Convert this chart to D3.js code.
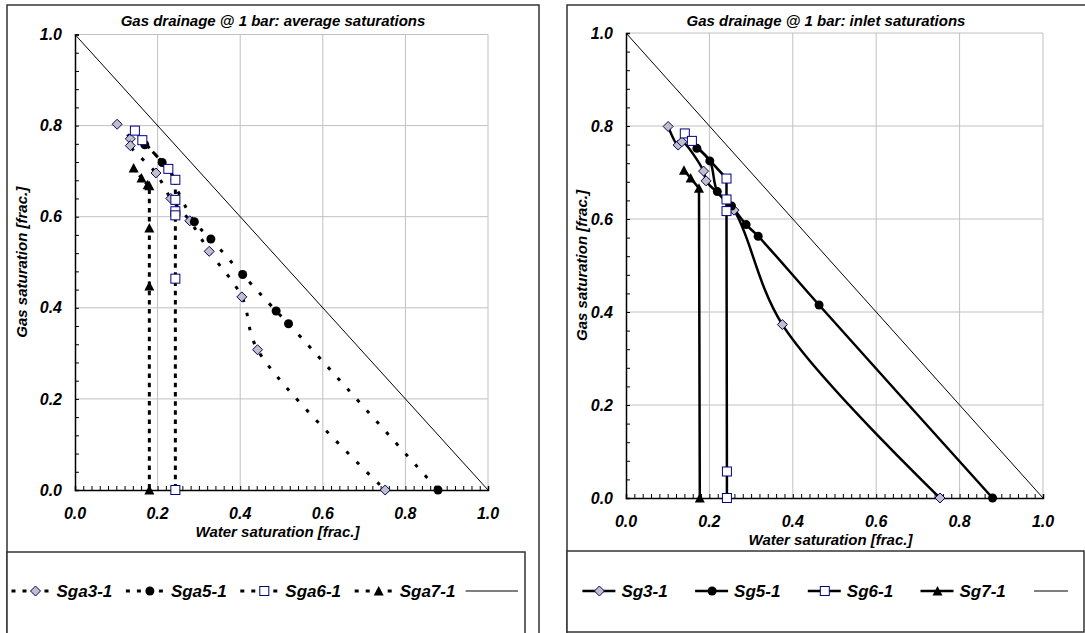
<!DOCTYPE html>
<html>
<head>
<meta charset="utf-8">
<script src="https://cdn.jsdelivr.net/npm/d3@7"></script>
<style>
  body { margin: 0; background: #fff; }
  svg text { font-family: "Liberation Sans", Arial, sans-serif; font-weight: bold; font-style: italic; fill: #000; }
</style>
</head>
<body>
<div id="chart"></div>
<script>
// Average saturations (left chart) - [water sat, gas sat]
const sga3 = [[0.102,0.803],[0.134,0.771],[0.134,0.756],[0.196,0.696],[0.232,0.640],[0.278,0.591],[0.325,0.524],[0.404,0.424],[0.442,0.308],[0.751,0]];
const sga5 = [[0.169,0.758],[0.211,0.719],[0.289,0.589],[0.329,0.551],[0.406,0.473],[0.487,0.393],[0.517,0.365],[0.879,0]];
const sga6 = [[0.145,0.789],[0.163,0.768],[0.226,0.705],[0.243,0.681],[0.243,0.637],[0.243,0.612],[0.243,0.603],[0.243,0.464],[0.243,0]];
const sga7 = [[0.142,0.707],[0.161,0.685],[0.176,0.670],[0.180,0.668],[0.180,0.575],[0.180,0.448],[0.180,0]];

// Inlet saturations (right chart)
const sg3 = [[0.101,0.799],[0.125,0.759],[0.134,0.766],[0.186,0.703],[0.192,0.682],[0.259,0.619],[0.375,0.373],[0.753,0]];
const sg5 = [[0.170,0.752],[0.201,0.725],[0.219,0.659],[0.253,0.628],[0.288,0.588],[0.317,0.563],[0.463,0.415],[0.879,0]];
const sg6 = [[0.141,0.784],[0.158,0.768],[0.241,0.687],[0.241,0.642],[0.241,0.617],[0.242,0.057],[0.242,0]];
const sg7 = [[0.139,0.705],[0.155,0.688],[0.175,0.666],[0.177,0]];

// unit-sum line Sw + Sg = 1
const diagonal = [[0,1],[1,0]];

const tickLabels = [0, 0.2, 0.4, 0.6, 0.8, 1.0];
const leftNames = ["Sga3-1", "Sga5-1", "Sga6-1", "Sga7-1"];
const rightNames = ["Sg3-1", "Sg5-1", "Sg6-1", "Sg7-1"];
const markerKinds = ["diamond", "circle", "square", "triangle"];

const svg = d3.select("#chart").append("svg")
  .attr("width", 1085).attr("height", 633);

// marker painter
function marker(g, kind) {
  if (kind === "diamond") {
    g.append("path").attr("d", "M0,-5L5,0L0,5L-5,0Z")
      .attr("fill", "#c0c0c0").attr("stroke", "#000080").attr("stroke-width", 1);
  } else if (kind === "circle") {
    g.append("circle").attr("r", 4.5).attr("fill", "#000");
  } else if (kind === "square") {
    g.append("rect").attr("x", -4.5).attr("y", -4.5).attr("width", 9).attr("height", 9)
      .attr("fill", "#fff").attr("stroke", "#000080").attr("stroke-width", 1);
  } else {
    g.append("path").attr("d", "M0,-5L5,4.5L-5,4.5Z").attr("fill", "#000");
  }
}

function drawChart(cfg) {
  const x = d3.scaleLinear().domain([0, 1]).range([cfg.x0, cfg.x1]);
  const y = d3.scaleLinear().domain([0, 1]).range([cfg.y0, cfg.y1]);
  const g = svg.append("g");

  // outer frame
  g.append("rect").attr("x", cfg.frame[0]).attr("y", cfg.frame[1])
    .attr("width", cfg.frame[2]).attr("height", cfg.frame[3])
    .attr("fill", "none").attr("stroke", "#333").attr("stroke-width", 1.5);

  // gridlines
  g.selectAll(".vg").data(tickLabels.slice(1)).join("line")
    .attr("x1", d => x(d)).attr("x2", d => x(d)).attr("y1", y(0)).attr("y2", y(1))
    .attr("stroke", "#c0c0c0").attr("stroke-width", 1);
  g.selectAll(".hg").data(tickLabels.slice(1)).join("line")
    .attr("y1", d => y(d)).attr("y2", d => y(d)).attr("x1", x(0)).attr("x2", x(1))
    .attr("stroke", "#c0c0c0").attr("stroke-width", 1);

  // axes with inside minor ticks
  const xAxis = g.append("g").attr("transform", `translate(0,${cfg.y0})`)
    .call(d3.axisBottom(x).tickValues(d3.range(0, 1.001, 0.02)).tickSize(-4).tickFormat(""));
  const yAxis = g.append("g").attr("transform", `translate(${cfg.x0},0)`)
    .call(d3.axisLeft(y).tickValues(d3.range(0, 1.001, 0.04)).tickSize(-4).tickFormat(""));
  [xAxis, yAxis].forEach(a => {
    a.select(".domain").attr("stroke", "#000").attr("stroke-width", 1.5);
    a.selectAll(".tick line").attr("stroke", "#000");
  });

  // tick labels
  g.selectAll(".xl").data(tickLabels).join("text")
    .attr("x", d => x(d)).attr("y", cfg.y0 + 29).attr("text-anchor", "middle")
    .style("font-size", "16px").text(d => d.toFixed(1));
  g.selectAll(".yl").data(tickLabels).join("text")
    .attr("x", cfg.x0 - 13).attr("y", d => y(d)).attr("dy", "0.35em").attr("text-anchor", "end")
    .style("font-size", "16px").text(d => d.toFixed(1));

  // titles
  g.append("text").attr("x", cfg.titleX).attr("y", 26).attr("text-anchor", "middle")
    .style("font-size", "15px").text(cfg.title);
  g.append("text").attr("x", (cfg.x0 + cfg.x1) / 2 - 4).attr("y", cfg.y0 + 47).attr("text-anchor", "middle")
    .style("font-size", "15px").text("Water saturation [frac.]");
  g.append("text").attr("transform", `translate(${cfg.frame[0] + 20},${(cfg.y0 + cfg.y1) / 2}) rotate(-90)`)
    .attr("text-anchor", "middle").style("font-size", "15px").text("Gas saturation [frac.]");

  // diagonal
  const line = d3.line().x(d => x(d[0])).y(d => y(d[1]));
  g.append("path").attr("d", line(diagonal)).attr("fill", "none").attr("stroke", "#000").attr("stroke-width", 1);

  // series: smoothed where the reference bends, straight for the vertical ones
  const curve = d3.line().x(d => x(d[0])).y(d => y(d[1])).curve(d3.curveCatmullRom.alpha(0.5));
  cfg.series.forEach((s, i) => {
    const gen = i < 2 ? curve : line;
    g.append("path").attr("d", gen(s)).attr("fill", "none").attr("stroke", "#000")
      .attr("stroke-width", cfg.lineWidth).attr("stroke-dasharray", cfg.dashes ? cfg.dashes[i] : null);
  });
  cfg.series.forEach((s, i) => {
    s.forEach(p => {
      const m = g.append("g").attr("transform", `translate(${x(p[0])},${y(p[1])})`);
      marker(m, markerKinds[i]);
    });
  });

  // legend
  const lb = cfg.legendBox;
  g.append("rect").attr("x", lb[0]).attr("y", lb[1]).attr("width", lb[2]).attr("height", lb[3])
    .attr("fill", "#fff").attr("stroke", "#333").attr("stroke-width", 1.5);
  const ly = 591;
  cfg.names.forEach((name, i) => {
    const cx = cfg.legendStart + i * cfg.legendStep;
    g.append("line").attr("x1", cx - cfg.sampleL).attr("x2", cx + cfg.sampleR).attr("y1", ly).attr("y2", ly)
      .attr("stroke", "#000").attr("stroke-width", cfg.lineWidth)
      .attr("stroke-dasharray", cfg.dashes ? cfg.legendDash : null);
    marker(g.append("g").attr("transform", `translate(${cx},${ly})`), markerKinds[i]);
    g.append("text").attr("x", cx + cfg.textGap).attr("y", ly).attr("dy", "0.35em")
      .style("font-size", "17px").text(name);
  });
  g.append("line").attr("x1", cfg.diagSample[0]).attr("x2", cfg.diagSample[1]).attr("y1", ly).attr("y2", ly)
    .attr("stroke", "#000").attr("stroke-width", 1);
}

drawChart({
  frame: [7, 5, 532, 700], x0: 75, x1: 488, y0: 490, y1: 34.5, titleX: 273,
  title: "Gas drainage @ 1 bar: average saturations",
  series: [sga3, sga5, sga6, sga7], names: leftNames,
  lineWidth: 3, dashes: ["3.5,11", "3.5,11", "4.5,4.7", "4.5,4.7"], legendDash: "4,7",
  legendBox: [7, 552, 518, 100], legendStart: 35.5, legendStep: 114.4,
  sampleL: 24, sampleR: 18, textGap: 21, diagSample: [465.6, 518]
});

drawChart({
  frame: [567, 5, 600, 700], x0: 626, x1: 1043, y0: 498, y1: 33, titleX: 826,
  title: "Gas drainage @ 1 bar: inlet saturations",
  series: [sg3, sg5, sg6, sg7], names: rightNames,
  lineWidth: 2.5, dashes: null,
  legendBox: [567, 551, 517, 81], legendStart: 599.4, legendStep: 112.7,
  sampleL: 17, sampleR: 16, textGap: 22, diagSample: [1034, 1068]
});
</script>
</body>
</html>
